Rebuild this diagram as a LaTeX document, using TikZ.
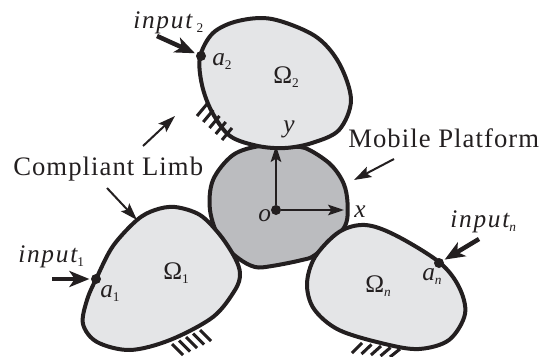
\documentclass[tikz,border=0pt]{standalone}
\usepackage{fontspec}
\setmainfont{Liberation Serif}
\usetikzlibrary{arrows.meta}
\definecolor{ink}{HTML}{231F20}
\definecolor{limbfill}{HTML}{E4E5E7}
\definecolor{platfill}{HTML}{BBBCBF}
\newcommand{\sbs}[2][-3.5pt]{\raisebox{#1}{\fontsize{10}{10}\selectfont #2}}
\tikzset{
  body/.style={draw=ink,line width=3pt,line join=round},
  limb/.style={body,fill=limbfill},
  plat/.style={body,fill=platfill},
  hatchline/.style={draw=ink,line width=2.3pt},
  force/.style={draw=ink,line width=3.4pt,-{Stealth[length=15pt,width=12pt,inset=4pt]},shorten >=1pt},
  axis/.style={draw=ink,line width=1.5pt,-{Stealth[length=12pt,width=8pt,inset=2.5pt]}},
  pointer/.style={draw=ink,line width=1.5pt,-{Stealth[length=13pt,width=8.5pt,inset=2.5pt]}},
  pin/.style={circle,fill=ink,inner sep=0pt,minimum size=7.5pt},
  big/.style={anchor=base west,inner sep=0pt,text=ink,font=\fontsize{20}{22}\selectfont\addfontfeatures{LetterSpace=4}},
  mid/.style={anchor=base west,inner sep=0pt,text=ink,font=\fontsize{19}{22}\selectfont},
  ital/.style={anchor=base west,inner sep=0pt,text=ink,font=\fontsize{19}{22}\selectfont\itshape\addfontfeatures{LetterSpace=7}}
}
\begin{document}
\begin{tikzpicture}[x=0.75pt,y=-0.75pt]
\useasboundingbox (0,0) rectangle (543,357);
% platform
\draw[plat] plot[smooth cycle,tension=0.55] coordinates {(213,180)(233,155)(260,146)(285,147)(305,148)(329,163)(342,180)(347,197)(347,220)(339,234)(315,255)(302,260)(272,266)(255,267)(238,258)(220,240)(210,210)};
% limbs
\draw[limb] plot[smooth cycle,tension=0.55] coordinates {(272,19)(315,36)(339,63)(351,100)(339,130)(312,143)(285,148)(258,146)(230,136)(212,112)(202,85)(200,57)(213,33)(238,21)};
\draw[limb] plot[smooth cycle,tension=0.55] coordinates {(137,220)(155,210)(175,207)(200,215)(220,235)(235,258)(240,274)(235,290)(213,317)(170,340)(130,350)(97,342)(83,324)(87,300)(97,277)(113,246)};
\draw[limb] plot[smooth cycle,tension=0.55] coordinates {(365,225)(395,235)(439,262)(459,287)(465,314)(449,340)(419,349)(385,344)(339,330)(314,309)(307,284)(315,257)(339,232)};
% hatching
\foreach \i in {0,1,2,3,4}{
  \draw[hatchline] ({197+\i*6.25},{116+\i*6}) -- ({207+\i*6.25},{104+\i*6});
  \draw[hatchline] ({172+\i*7},{344-\i*3.5}) -- ({183+\i*7},{355-\i*3.5});
  \draw[hatchline] ({352+\i*9.5},{353+\i*1}) -- ({362+\i*9.5},{343+\i*1.5});
}
% pins
\node[pin] (a2) at (201,56) {};
\node[pin] (a1) at (96,279) {};
\node[pin] (an) at (439,263) {};
\node[pin] (o) at (276,210) {};
% free ends
\coordinate (f2) at (157,36);
\coordinate (f1) at (52,279);
\coordinate (fn) at (479,239);
\coordinate (ytip) at (276,146);
\coordinate (xtip) at (344,210);
\coordinate (c1s) at (143,146);
\coordinate (c1e) at (175,116);
\coordinate (c2s) at (107,188);
\coordinate (c2e) at (137,220);
\coordinate (ms) at (394,159);
\coordinate (me) at (354,180);
% connectors
\draw[force] (f2) -- (a2);
\draw[force] (f1) -- (a1);
\draw[force] (fn) -- (an);
\draw[axis] (o) -- (ytip);
\draw[axis] (o) -- (xtip);
\draw[pointer] (c1s) -- (c1e);
\draw[pointer] (c2s) -- (c2e);
\draw[pointer] (ms) -- (me);
% labels
\node[ital] (t2) at (133,28) {input\,\sbs{\upshape 2}};
\node[ital] (t1) at (18,262) {input\sbs{\upshape 1}};
\node[ital] (tn) at (450,227) {input\sbs{n}};
\node[ital] (la2) at (212,65) {a\sbs{\upshape 2}};
\node[ital] (la1) at (100,297) {a\sbs{\upshape 1}};
\node[ital] (lan) at (422,280) {a\sbs{n}};
\node[mid] (O2) at (273,83) {Ω\sbs{2}};
\node[mid] (O1) at (163,279) {Ω\sbs{1}};
\node[mid] (On) at (365,292) {Ω\sbs{\itshape n}};
\node[ital] (ly) at (283,132) {y};
\node[ital] (lx) at (354,217) {x};
\node[ital] (lo) at (258,221) {o};
\node[big] (cl) at (13,175) {Compliant Limb};
\node[big] (mp) at (348,147) {Mobile Platform};
\end{tikzpicture}
\end{document}
